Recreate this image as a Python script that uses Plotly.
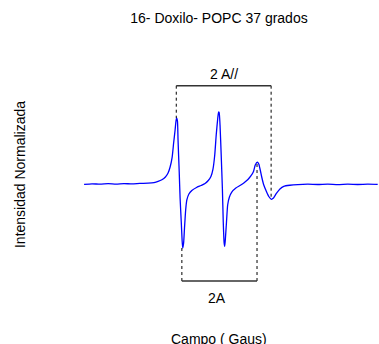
import plotly.graph_objects as go

# EPR spectrum: magnetic field (Gauss) and normalized intensity
field_gauss = [3250.0, 3252.7, 3255.4, 3258.2, 3260.9, 3263.6, 3266.3, 3269.0, 3271.8, 3273.8,
               3275.2, 3276.5, 3277.7, 3278.6, 3279.3, 3280.0, 3280.5, 3281.0, 3281.3, 3281.5,
               3281.8, 3282.0, 3282.4, 3282.7, 3283.1, 3283.4, 3283.6, 3283.9, 3284.2, 3284.6,
               3285.0, 3285.7, 3286.7, 3288.3, 3289.8, 3291.2, 3292.3, 3293.2, 3293.9, 3294.5,
               3295.0, 3295.5, 3295.8, 3296.0, 3296.3, 3296.7, 3297.1, 3297.4, 3297.7, 3297.9,
               3298.1, 3298.5, 3298.9, 3299.5, 3300.3, 3301.7, 3303.1, 3304.4, 3305.8, 3306.8,
               3307.7, 3308.3, 3309.0, 3309.5, 3310.0, 3310.5, 3311.2, 3312.1, 3312.9, 3313.8,
               3314.5, 3315.5, 3316.7, 3318.0, 3320.1, 3322.8, 3326.2, 3329.6, 3333.0, 3336.4,
               3339.8, 3343.2, 3346.6, 3350.0]
intensity = [-0.004, 0.003, -0.003, 0.004, -0.001, 0.006, 0.001, 0.008, 0.011, 0.019,
             0.035, 0.058, 0.097, 0.152, 0.235, 0.373, 0.567, 0.747, 0.871, 0.913,
             0.871, 0.609, 0.170, -0.194, -0.526, -0.788, -0.885, -0.816, -0.609, -0.360,
             -0.221, -0.138, -0.090, -0.048, -0.021, 0.007, 0.048, 0.104, 0.207, 0.401,
             0.678, 0.899, 0.996, 0.989, 0.816, 0.401, -0.059, -0.526, -0.816, -0.864,
             -0.775, -0.526, -0.290, -0.180, -0.111, -0.055, -0.021, 0.014, 0.062, 0.111,
             0.173, 0.263, 0.304, 0.277, 0.194, 0.097, -0.014, -0.104, -0.173, -0.212,
             -0.194, -0.131, -0.069, -0.032, -0.017, -0.008, -0.003, -0.007, -0.001, -0.008,
             -0.003, -0.007, -0.003, -0.006]

# Hyperfine splitting markers: field positions and the intensities where the dotted guides end
a_par_field = [3281.4, 3313.7]
a_par_ends = [0.913, -0.212]
a_par_level = 1.36
a_par_label = "2 A//"

a_perp_field = [3283.3, 3308.9]
a_perp_ends = [-0.885, 0.304]
a_perp_level = -1.342
a_perp_label = "2A"

title_text = "16- Doxilo- POPC 37 grados"
x_title = "Campo ( Gaus)"
y_title = "Intensidad Normalizada"

FONT = "Arial, Liberation Sans, sans-serif"

fig = go.Figure()
fig.add_trace(go.Scatter(
    x=field_gauss, y=intensity, mode="lines",
    line=dict(color="#0000ff", width=1.3, shape="spline", smoothing=0.5),
    hoverinfo="skip", showlegend=False,
))

shapes = []
for f, e in zip(a_par_field, a_par_ends):
    shapes.append(dict(type="line", xref="x", yref="y", x0=f, x1=f, y0=a_par_level, y1=e,
                       line=dict(color="black", width=1, dash="dot")))
shapes.append(dict(type="line", xref="x", yref="y", x0=a_par_field[0], x1=a_par_field[1],
                   y0=a_par_level, y1=a_par_level, line=dict(color="#333333", width=1.5)))
for f, e in zip(a_perp_field, a_perp_ends):
    shapes.append(dict(type="line", xref="x", yref="y", x0=f, x1=f, y0=a_perp_level, y1=e,
                       line=dict(color="black", width=1, dash="dot")))
shapes.append(dict(type="line", xref="x", yref="y", x0=a_perp_field[0], x1=a_perp_field[1],
                   y0=a_perp_level, y1=a_perp_level, line=dict(color="#333333", width=1.5)))

annotations = [
    dict(x=sum(a_par_field) / 2, y=a_par_level + 0.16, xref="x", yref="y", text=a_par_label,
         showarrow=False, font=dict(family=FONT, size=14, color="black")),
    dict(x=sum(a_perp_field) / 2 - 1.0, y=a_perp_level - 0.235, xref="x", yref="y", text=a_perp_label,
         showarrow=False, font=dict(family=FONT, size=14, color="black")),
    # x-axis title, placed low enough to be partly cut by the page edge as in the reference
    dict(x=0.5, y=-30 / 269, xref="paper", yref="paper", xanchor="center", yanchor="middle",
         text=x_title, showarrow=False, font=dict(family=FONT, size=14, color="black")),
]

fig.update_layout(
    width=379, height=344,
    margin=dict(l=60, r=1, t=40, b=35),
    paper_bgcolor="white", plot_bgcolor="white",
    font=dict(family=FONT, size=14, color="black"),
    title=dict(text=title_text, x=0.5, xref="paper", xanchor="center",
               y=1 - 18 / 344, yref="container", yanchor="middle",
               font=dict(family=FONT, size=14, color="black")),
    shapes=shapes,
    annotations=annotations,
    showlegend=False,
)
fig.update_xaxes(range=[3241.8, 3350.1], showticklabels=False, showgrid=False, zeroline=False,
                 showline=False, ticks="", automargin=False)
fig.update_yaxes(range=[-1.729, 1.992], showticklabels=False, showgrid=False, zeroline=False,
                 showline=False, ticks="", automargin=False,
                 title=dict(text=y_title, standoff=30, font=dict(family=FONT, size=14)))

fig.write_html("out.html")
